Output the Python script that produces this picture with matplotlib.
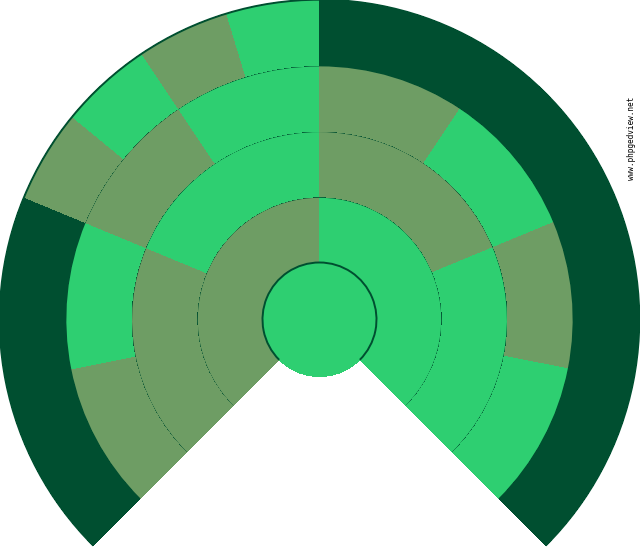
import matplotlib
matplotlib.use("Agg")
import matplotlib.pyplot as plt
from matplotlib.patches import Wedge, Circle, Arc

# Fan chart data: sex code per person, listed left to right in each generation
center_person = ["F"]
generation_1 = ["M", "F"]
generation_2 = ["M", "F", "M", "F"]
generation_3 = ["M", "F", "M", "F", "M", "F", "M", "F"]
generation_4 = ["U", "U", "U", "U", "M", "F", "M", "F",
                "U", "U", "U", "U", "U", "U", "U", "U"]
watermark = "www.phpgedview.net"

colors = {"M": "#6E9D64", "F": "#2ECF71", "U": "#004F30"}
line_color = "#004F30"

fig = plt.figure(figsize=(6.4, 5.5), dpi=100)
ax = fig.add_axes([0, 0, 1, 1])
ax.set_xlim(0, 640)
ax.set_ylim(0, 550)
ax.axis("off")

cx, cy = 319.5, 230.5
r0 = 57.0
step = 65.7
start, end = 225.0, -45.0  # fan spans 270 degrees, from left to right

gens = [generation_1, generation_2, generation_3, generation_4]
for g, people in enumerate(gens):
    r_in = r0 + g * step
    r_out = r_in + step
    span = (start - end) / len(people)
    for i, sex in enumerate(people):
        a1 = start - i * span
        a2 = a1 - span
        ax.add_patch(Wedge((cx, cy), r_out, a2, a1, width=step,
                           facecolor=colors[sex], edgecolor="none",
                           antialiased=False))
    ax.add_patch(Arc((cx, cy), 2 * r_out, 2 * r_out, theta1=end, theta2=start,
                     color=line_color, lw=1.4))

ax.add_patch(Circle((cx, cy), r0, facecolor=colors[center_person[0]],
                    edgecolor="none", antialiased=False))
ax.add_patch(Arc((cx, cy), 2 * r0, 2 * r0, theta1=end, theta2=start,
                 color=line_color, lw=1.4))

ax.text(632, 370, watermark, rotation=90, ha="center", va="bottom",
        fontsize=5.6, family="DejaVu Sans Mono", color="black")

fig.savefig("out.png", dpi=100)
